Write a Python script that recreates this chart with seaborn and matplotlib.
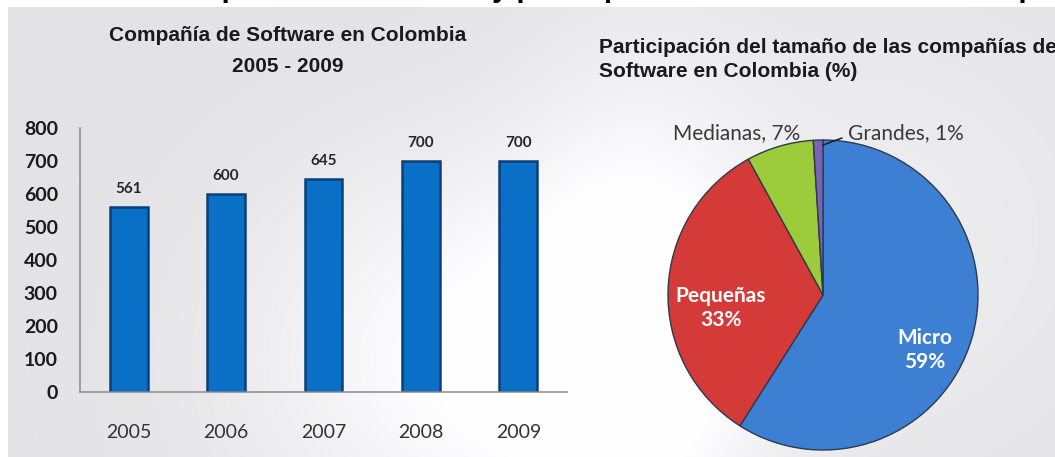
import numpy as np
import matplotlib
matplotlib.use("Agg")
import matplotlib.pyplot as plt
import seaborn as sns

# Data
years = ["2005", "2006", "2007", "2008", "2009"]
companies = [561, 600, 645, 700, 700]
y_ticks = [0, 100, 200, 300, 400, 500, 600, 700, 800]

sizes = ["Micro", "Pequeñas", "Medianas", "Grandes"]
shares = [59, 33, 7, 1]
size_colors = ["#3d7fd2", "#d43b38", "#9ccb3c", "#7a62b4"]

W, H = 1055, 457

sns.set_theme(style="white")
plt.rcParams["font.family"] = ["Lato", "DejaVu Sans"]

fig = plt.figure(figsize=(W / 100, H / 100), dpi=100)


def fx(x):
    return x / W


def fy(y):
    return 1 - y / H


# soft grey slide background with white glows
yy, xx = np.mgrid[0:H, 0:W]
g1 = np.exp(-(((xx - 480) / 230.0) ** 2 + ((yy - 360) / 200.0) ** 2))
g2 = np.exp(-(((xx - 640) / 120.0) ** 2 + ((yy - 330) / 260.0) ** 2))
g3 = np.exp(-(((xx - 880) / 260.0) ** 2 + ((yy - 230) / 240.0) ** 2))
val = 0.892 + 0.105 * np.clip(g1 + 0.8 * g2 + 0.35 * g3, 0, 1)
bg = np.dstack([val, val, np.clip(val + 0.012, 0, 1)])
bg[:7, :, :] = 1.0
bg[:, :8, :] = 1.0
bax = fig.add_axes([0, 0, 1, 1], zorder=-5)
bax.imshow(bg, aspect="auto", extent=(0, W, H, 0))
bax.set_axis_off()

title_font = ["Liberation Sans", "DejaVu Sans"]

# caption line running off the top edge
cap_prefix = "Ilustración 1. Compañías de software "
caption = cap_prefix + "y participación del tamaño de las compañías de Software en Colombia"
probe = fig.text(0, 0, cap_prefix, fontsize=21, fontweight="bold", family=title_font)
fig.canvas.draw()
pw = probe.get_window_extent().width
probe.remove()
fig.text(fx(498 - pw - 6), fy(-3), caption, fontsize=21, fontweight="bold",
         family=title_font, color="#000000", va="baseline", ha="left")

# ---- bar chart ----
ax = fig.add_axes([fx(80), fy(392), fx(567) - fx(80), fy(128) - fy(392)])
ax.patch.set_alpha(0)
sns.barplot(x=years, y=companies, ax=ax, color="#0a6fc6", saturation=1,
            width=0.39, edgecolor="#0c3f78", linewidth=1.8)
ax.set_ylim(0, 800)
ax.set_xlim(-0.5, len(years) - 0.5)
ax.set_yticks(y_ticks)
ax.set_yticklabels([str(v) for v in y_ticks], fontsize=14, fontweight="bold",
                   color="#1a1a1a")
ax.set_xticks(range(len(years)))
ax.set_xticklabels(years, fontsize=14, color="#333333")
ax.set_xticks(np.arange(-0.5, len(years)), minor=True)
ax.tick_params(axis="x", which="major", length=0, pad=23)
ax.tick_params(axis="x", which="minor", length=6, width=1, color="#8a8a8a",
               direction="out")
ax.tick_params(axis="y", length=7, width=1, color="#8a8a8a", direction="out", pad=9)
ax.set_xlabel("")
ax.set_ylabel("")
for s in ["top", "right"]:
    ax.spines[s].set_visible(False)
for s in ["left", "bottom"]:
    ax.spines[s].set_color("#8a8a8a")
    ax.spines[s].set_linewidth(1.1)

for i, v in enumerate(companies):
    ax.annotate(str(v), (i, v), xytext=(0, 8), textcoords="offset points",
                ha="center", va="bottom", fontsize=11, fontweight="bold",
                color="#262626")

fig.text(fx(288), fy(41), "Compañía de Software en Colombia", ha="center",
         va="baseline", fontsize=15, fontweight="bold", family=title_font,
         color="#1a1a1a")
fig.text(fx(288), fy(72), "2005 - 2009", ha="center", va="baseline",
         fontsize=15, fontweight="bold", family=title_font, color="#1a1a1a")

# ---- pie chart ----
cx, cy, r = 823, 295, 155
pax = fig.add_axes([fx(cx - r), fy(cy + r), 2 * r / W, 2 * r / H])
pax.pie(shares, colors=size_colors, startangle=90, counterclock=False,
        radius=1.0, wedgeprops=dict(edgecolor="#2d3a4a", linewidth=1.0))
pax.set_xlim(-1, 1)
pax.set_ylim(-1, 1)
pax.set_axis_off()


def pxy(x, y):
    return ((x - cx) / r, (cy - y) / r)


pax.text(*pxy(925, 350), f"{sizes[0]}\n{shares[0]}%", ha="center", va="center",
         fontsize=15, fontweight="bold", color="white", linespacing=1.25)
pax.text(*pxy(721, 308), f"{sizes[1]}\n{shares[1]}%", ha="center", va="center",
         fontsize=15, fontweight="bold", color="white", linespacing=1.25)
pax.text(*pxy(737, 133), f"{sizes[2]}, {shares[2]}%", ha="center", va="center",
         fontsize=15, color="#3a3a3a", clip_on=False)
pax.text(*pxy(848, 133), f"{sizes[3]}, {shares[3]}%", ha="left", va="center",
         fontsize=15, color="#3a3a3a", clip_on=False)
pax.plot(*zip(pxy(823, 145), pxy(842, 138)), color="#1a1a1a", lw=1.1,
         clip_on=False)

fig.text(fx(599), fy(53), "Participación del tamaño de las compañías de",
         ha="left", va="baseline", fontsize=15, fontweight="bold",
         family=title_font, color="#1a1a1a")
fig.text(fx(599), fy(77), "Software en Colombia (%)", ha="left", va="baseline",
         fontsize=15, fontweight="bold", family=title_font, color="#1a1a1a")

fig.savefig("out.png", dpi=100)
